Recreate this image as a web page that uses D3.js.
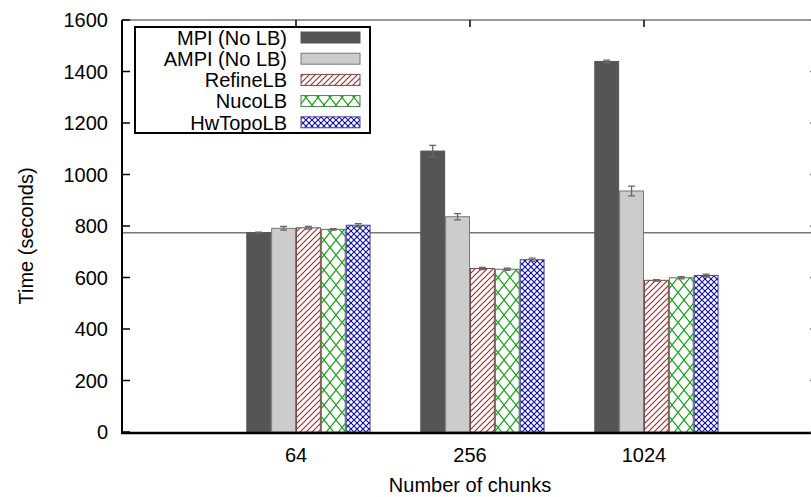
<!DOCTYPE html>
<html><head><meta charset="utf-8">
<script src="https://cdn.jsdelivr.net/npm/d3@7"></script>
<style>body{margin:0;background:#fff}svg{display:block}text{font-family:"Liberation Sans",Arial,sans-serif;fill:#000}</style>
</head><body><svg id="c" width="811" height="497"></svg>
<script>
const categories = ["64", "256", "1024"];
const seriesNames = ["MPI (No LB)", "AMPI (No LB)", "RefineLB", "NucoLB", "HwTopoLB"];
const mpi     = [774, 1091, 1439];
const ampi    = [791, 836, 936];
const refine  = [793, 635, 589];
const nuco    = [787, 632, 599];
const hwtopo  = [803, 669, 608];
const mpiErr    = [2, 22, 5];
const ampiErr   = [7, 12, 19];
const refineErr = [5, 4, 3];
const nucoErr   = [3, 4, 4];
const hwtopoErr = [6, 6, 5];
const baseline = 774;
const yTicks = [0, 200, 400, 600, 800, 1000, 1200, 1400, 1600];

const values = [mpi, ampi, refine, nuco, hwtopo];
const errs = [mpiErr, ampiErr, refineErr, nucoErr, hwtopoErr];

const svg = d3.select("#c");
const x = d3.scaleLinear().domain([-1, 3]).range([122, 818]);
const y = d3.scaleLinear().domain([0, 1600]).range([432, 20]);
const bw = x(1/7) - x(0);
const FS = 20;

const defs = svg.append("defs");
const p1 = defs.append("pattern").attr("id","pRefine").attr("patternUnits","userSpaceOnUse").attr("width",6).attr("height",6);
p1.append("rect").attr("width",6).attr("height",6).attr("fill","#fff");
p1.append("path").attr("d","M-1,1 L1,-1 M0,6 L6,0 M5,7 L7,5").attr("stroke","#b02020").attr("stroke-width",1.1);
const p2 = defs.append("pattern").attr("id","pNuco").attr("patternUnits","userSpaceOnUse").attr("width",12).attr("height",15);
p2.append("rect").attr("width",12).attr("height",15).attr("fill","#fff");
p2.append("path").attr("d","M0,0 L12,15 M12,0 L0,15").attr("stroke","#10a010").attr("stroke-width",1.1);
const p3 = defs.append("pattern").attr("id","pHw").attr("patternUnits","userSpaceOnUse").attr("width",6).attr("height",6);
p3.append("rect").attr("width",6).attr("height",6).attr("fill","#fff");
p3.append("path").attr("d","M0,0 L6,6 M6,0 L0,6").attr("stroke","#1010a0").attr("stroke-width",1.1);
p3.append("circle").attr("cx",3).attr("cy",3).attr("r",1.1).attr("fill","#1010a0");

const fills = ["#555555", "#cccccc", "url(#pRefine)", "url(#pNuco)", "url(#pHw)"];
const strokes = ["#555555", "#777777", "#7a4a4a", "#4a7a4a", "#44449a"];

svg.append("line").attr("x1", x(-1)).attr("x2", x(3)).attr("y1", y(baseline)).attr("y2", y(baseline))
  .attr("stroke","#777").attr("stroke-width",1.5);

values.forEach((vals, j) => {
  const g = svg.append("g");
  vals.forEach((v, i) => {
    const x0 = x(i - 2/7 + j/7);
    g.append("rect").attr("x", x0 + 0.5).attr("y", y(v)).attr("width", bw - 1).attr("height", y(0) - y(v))
      .attr("fill", fills[j]).attr("stroke", strokes[j]).attr("stroke-width", 1);
    const cx = x0 + bw/2, e = errs[j][i];
    g.append("path").attr("d", `M${cx},${y(v+e)}V${y(v-e)}M${cx-3.5},${y(v+e)}h7M${cx-3.5},${y(v-e)}h7`)
      .attr("stroke","#666").attr("stroke-width",1.3).attr("fill","none");
  });
});

svg.append("line").attr("x1",x(-1)).attr("x2",x(3)).attr("y1",y(1600)).attr("y2",y(1600)).attr("stroke","#333").attr("stroke-width",1.2);
svg.append("line").attr("x1",x(-1)).attr("x2",x(-1)).attr("y1",y(0)+1).attr("y2",y(1600)).attr("stroke","#000").attr("stroke-width",2);
svg.append("line").attr("x1",x(-1)-1).attr("x2",x(3)).attr("y1",y(0)+1).attr("y2",y(0)+1).attr("stroke","#000").attr("stroke-width",2.5);

const yAxis = svg.append("g");
yTicks.forEach(t => {
  yAxis.append("line").attr("x1", x(-1)).attr("x2", x(-1)+8).attr("y1", y(t)).attr("y2", y(t)).attr("stroke","#000").attr("stroke-width",1.5);
  yAxis.append("line").attr("x1", x(3)-8).attr("x2", x(3)).attr("y1", y(t)).attr("y2", y(t)).attr("stroke","#777").attr("stroke-width",1.5);
  yAxis.append("text").attr("x", 108).attr("y", y(t)).attr("dy","0.36em").attr("text-anchor","end").attr("font-size",FS).text(t);
});
categories.forEach((c, i) => {
  svg.append("line").attr("x1", x(i)).attr("x2", x(i)).attr("y1", y(1600)).attr("y2", y(1600)+7).attr("stroke","#000").attr("stroke-width",1.5);
  svg.append("text").attr("x", x(i)).attr("y", 462).attr("text-anchor","middle").attr("font-size",FS).text(c);
});

svg.append("text").attr("x", 470).attr("y", 492).attr("text-anchor","middle").attr("font-size",FS).text("Number of chunks");
svg.append("text").attr("transform","translate(33,236) rotate(-90)").attr("text-anchor","middle").attr("font-size",FS).text("Time (seconds)");

const lg = svg.append("g");
lg.append("rect").attr("x",135).attr("y",27).attr("width",235).attr("height",106).attr("fill","#fff").attr("stroke","#000").attr("stroke-width",2);
seriesNames.forEach((n, j) => {
  const cy = 37.5 + j*21.2;
  lg.append("text").attr("x", 287).attr("y", cy).attr("dy","0.36em").attr("text-anchor","end").attr("font-size",FS).text(n);
  lg.append("rect").attr("x", 301).attr("y", cy-5.5).attr("width", 59).attr("height", 11)
    .attr("fill", fills[j]).attr("stroke", j===0 ? "#555" : strokes[j]).attr("stroke-width",1);
});
</script></body></html>
